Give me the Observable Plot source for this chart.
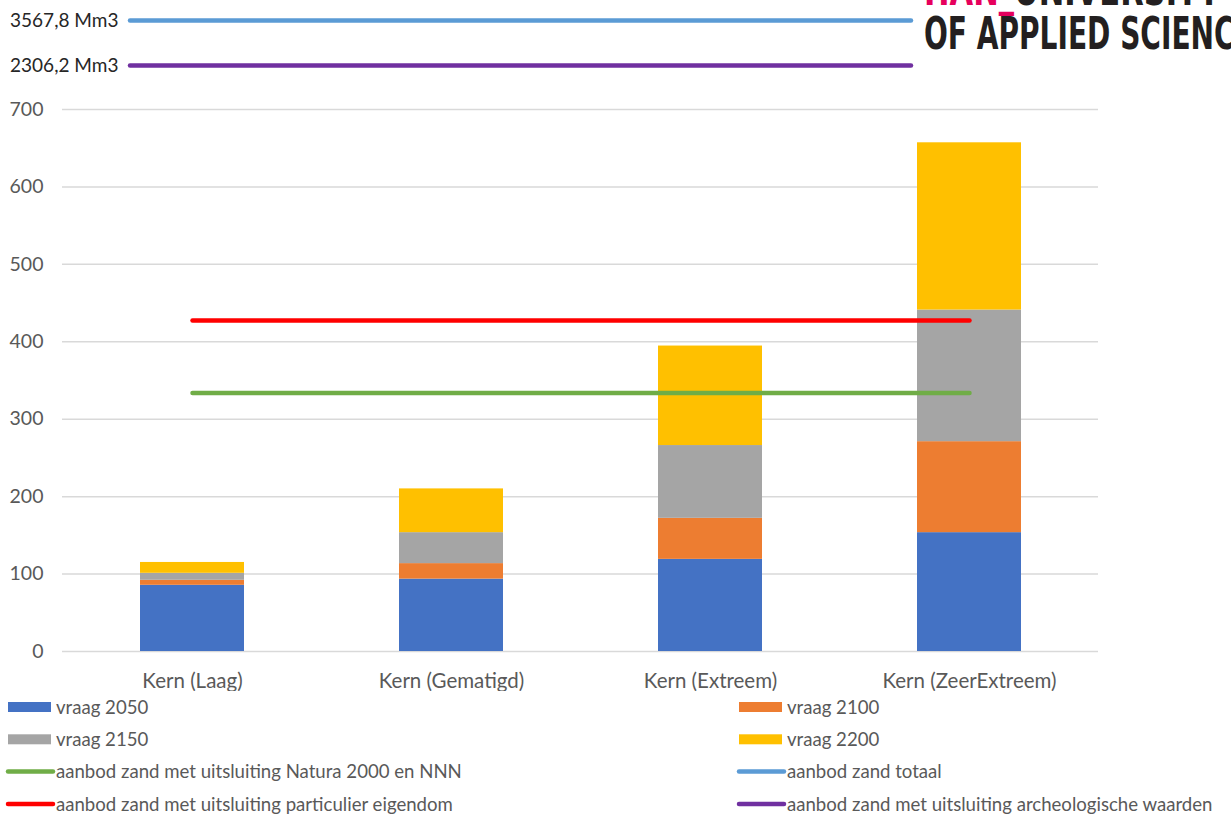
<!DOCTYPE html>
<html>
<head>
<meta charset="utf-8">
<script src="https://cdn.jsdelivr.net/npm/d3@7"></script>
<script src="https://cdn.jsdelivr.net/npm/@observablehq/plot@0.6"></script>
<style>
  html, body { margin: 0; padding: 0; background: #fff; }
  #page { position: relative; width: 1231px; height: 814px; overflow: hidden; background: #fff; }
  #page > * { position: absolute; left: 0; }
  #page svg { background: transparent; }
</style>
</head>
<body>
<div id="page">
  <div id="supply" style="top:0"></div>
  <div id="main" style="top:90px"></div>
  <div id="legend" style="top:690px"></div>
  <div id="brand" style="top:0"></div>
</div>
<script>
// Sand demand scenarios (Mm3), stacked per horizon year
const categories = ["Kern (Laag)", "Kern (Gematigd)", "Kern (Extreem)", "Kern (ZeerExtreem)"];
const demandSeries = ["vraag 2050", "vraag 2100", "vraag 2150", "vraag 2200"];
const vraag2050 = [85.5, 93.5, 119, 153.5];
const vraag2100 = [6.5, 20, 53, 117.5];
const vraag2150 = [9, 40, 94, 170];
const vraag2200 = [14, 56.5, 128.5, 216];

// Sand supply levels (Mm3)
const supplySeries = [
  "aanbod zand met uitsluiting Natura 2000 en NNN",
  "aanbod zand totaal",
  "aanbod zand met uitsluiting particulier eigendom",
  "aanbod zand met uitsluiting archeologische waarden"
];
const supplyValues = [334, 3567.8, 427.5, 2306.2];

const yTicks = [0, 100, 200, 300, 400, 500, 600, 700];

// Colours
const demandColors = ["#4472C4", "#ED7D31", "#A5A5A5", "#FFC000"];
const supplyColors = ["#70AD47", "#5B9BD5", "#FF0000", "#7030A0"];

// ---- derived tables ----
const demandValues = [vraag2050, vraag2100, vraag2150, vraag2200];
const bars = [];
categories.forEach((c, i) => {
  demandSeries.forEach((s, j) => bars.push({category: c, series: s, value: demandValues[j][i]}));
});

const yMax = d3.max(yTicks);
const supplyRows = supplySeries.map((s, i) => ({series: s, value: supplyValues[i]}));
const onAxis = supplyRows.filter(d => d.value <= yMax);
const offAxis = supplyRows.filter(d => d.value > yMax).sort((a, b) => b.value - a.value);
const fmtMm3 = v => v.toFixed(1).replace(".", ",") + " Mm3";

const supplyLines = [];
onAxis.forEach(d => categories.forEach(c => supplyLines.push({category: c, series: d.series, value: d.value})));

const allSeries = [...demandSeries, ...supplySeries];
const allColors = [...demandColors, ...supplyColors];
const colorOf = d3.scaleOrdinal(allSeries, allColors);

const font = "Lato, 'Open Sans', sans-serif";

// ---- off-axis supply totals, drawn above the chart ----
const supply = Plot.plot({
  width: 1231,
  height: 90,
  marginLeft: 130,
  marginRight: 320,
  marginTop: 0,
  marginBottom: 0,
  style: {fontFamily: font, fontSize: "19px", color: "#262626", background: "transparent"},
  x: {axis: null, domain: [0, 1]},
  y: {type: "point", domain: offAxis.map(d => fmtMm3(d.value)), range: [20, 65], padding: 0, label: null, tickSize: 0, tickPadding: 12},
  color: {domain: allSeries, range: allColors},
  marks: [
    Plot.ruleY(offAxis, {y: d => fmtMm3(d.value), stroke: "series", strokeWidth: 4.5, strokeLinecap: "round"})
  ]
});
document.getElementById("supply").append(supply);

// ---- main stacked bar chart ----
const main = Plot.plot({
  width: 1231,
  height: 601,
  marginTop: 19,
  marginBottom: 40,
  marginLeft: 62,
  marginRight: 133,
  style: {fontFamily: font, fontSize: "19px", color: "#595959", background: "transparent"},
  x: {domain: categories, paddingInner: 0.6, paddingOuter: 0.3, label: null},
  y: {domain: [0, yMax], label: null},
  color: {domain: allSeries, range: allColors},
  marks: [
    Plot.ruleY(yTicks, {stroke: "#d9d9d9", strokeWidth: 1.5}),
    Plot.barY(bars, {x: "category", y: "value", fill: "series"}),
    Plot.lineY(supplyLines, {x: "category", y: "value", z: "series", stroke: "series", strokeWidth: 4.5, strokeLinecap: "round"}),
    Plot.axisX({tickSize: 0, tickPadding: 22, fontSize: 20.5, label: null}),
    Plot.axisY(yTicks, {tickSize: 0, tickPadding: 19, fontSize: 19.5, label: null})
  ]
});
document.getElementById("main").append(main);

// ---- legend: two columns, filled swatches for demand, line swatches for supply ----
const legendItems = [
  ...demandSeries.map(s => ({name: s, kind: "bar"})),
  ...supplySeries.map(s => ({name: s, kind: "line"}))
];
const lg = d3.create("svg").attr("width", 1231).attr("height", 124)
  .style("font-family", font).style("font-size", "18.6px");
legendItems.forEach((d, i) => {
  const col = i % 2, row = Math.floor(i / 2);
  const x0 = col === 0 ? 8 : 739;
  const y = 17 + row * 32.3;
  const g = lg.append("g").attr("transform", `translate(${x0},${y})`);
  if (d.kind === "bar") {
    g.append("rect").attr("x", 0).attr("y", -5).attr("width", 43).attr("height", 10).attr("fill", colorOf(d.name));
  } else {
    g.append("line").attr("x1", 0).attr("x2", 45).attr("y1", 0).attr("y2", 0)
      .attr("stroke", colorOf(d.name)).attr("stroke-width", 4.5).attr("stroke-linecap", "round");
  }
  g.append("text").attr("x", 48).attr("dy", "0.36em").attr("fill", "#595959").text(d.name);
});
document.getElementById("legend").append(lg.node());

// ---- institution wordmark, top right ----
const br = d3.create("svg").attr("width", 1231).attr("height", 60);
const wm = br.append("g").style("font-family", "'Liberation Sans Narrow', 'DejaVu Sans Condensed', sans-serif")
  .style("font-weight", "bold").style("font-size", "44px");
const l1 = wm.append("text").attr("x", 924).attr("y", 5).attr("textLength", 296).attr("lengthAdjust", "spacingAndGlyphs");
l1.append("tspan").attr("fill", "#E6005C").text("HAN_");
l1.append("tspan").attr("fill", "#231F20").text("UNIVERSITY");
wm.append("text").attr("x", 924).attr("y", 49).attr("textLength", 350).attr("lengthAdjust", "spacingAndGlyphs")
  .attr("fill", "#231F20").text("OF APPLIED SCIENCES");
document.getElementById("brand").append(br.node());
</script>
</body>
</html>
